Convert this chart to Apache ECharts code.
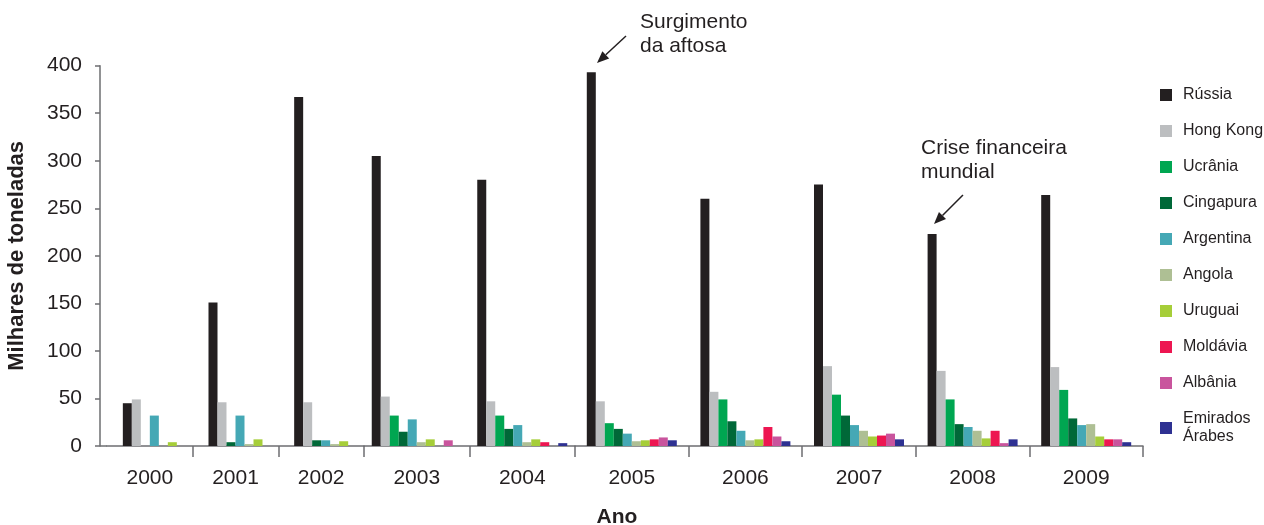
<!DOCTYPE html>
<html><head><meta charset="utf-8">
<script src="https://cdn.jsdelivr.net/npm/echarts@6/dist/echarts.min.js"></script>
<style>html,body{margin:0;padding:0;background:#fff}#c{width:1264px;height:525px}</style>
</head><body><div id="c"></div>
<script>
const years = ['2000','2001','2002','2003','2004','2005','2006','2007','2008','2009'];
const countries = ['Rússia','Hong Kong','Ucrânia','Cingapura','Argentina','Angola','Uruguai','Moldávia','Albânia','Emirados Árabes'];
const russia    = [45, 151, 367, 305, 280, 393, 260, 275, 223, 264];
const hongKong  = [49, 46, 46, 52, 47, 47, 57, 84, 79, 83];
const ucrania   = [null, null, null, 32, 32, 24, 49, 54, 49, 59];
const cingapura = [null, 4, 6, 15, 18, 18, 26, 32, 23, 29];
const argentina = [32, 32, 6, 28, 22, 13, 16, 22, 20, 22];
const angola    = [null, 2, 2, 4, 4, 5, 6, 16, 16, 23];
const uruguai   = [4, 7, 5, 7, 7, 6, 7, 10, 8, 10];
const moldavia  = [null, null, null, null, 4, 7, 20, 11, 16, 7];
const albania   = [null, null, null, 6, null, 9, 10, 13, 3, 7];
const emirados  = [null, null, null, null, 3, 6, 5, 7, 7, 4];
const yTicks = [0, 50, 100, 150, 200, 250, 300, 350, 400];
const colors = ['#231f20','#bcbec0','#00a651','#006838','#45a8b5','#aebf94','#a6ce39','#ed1651','#c9549d','#2e3192'];
const allValues = [russia, hongKong, ucrania, cingapura, argentina, angola, uruguai, moldavia, albania, emirados];
const legendLabels = {'Emirados Árabes': 'Emirados\nÁrabes'};

// layout: the original's year groups have uneven widths, so the x axis is split in panels
const panelYears = [3, 2, 5];
const panelEdges = [107, 364, 575, 1143];

const FONT = 'Liberation Sans, Arial, sans-serif';
const TXT = '#231f20';
const AX = '#6d6e71';

const chart = echarts.init(document.getElementById('c'), null, {renderer: 'canvas'});

const tickBase = {show: true, length: 11, lineStyle: {color: AX, width: 1.5}};
const grids = [], xAxes = [], yAxes = [], series = [];
let start = 0;
panelYears.forEach((n, p) => {
  const ys = years.slice(start, start + n);
  grids.push({left: panelEdges[p], top: 65.7, width: panelEdges[p + 1] - panelEdges[p], height: 380.3});
  xAxes.push({
    type: 'category', gridIndex: p, data: ys,
    axisLine: {show: true, lineStyle: {color: AX, width: 1.5}},
    axisTick: p === 0 ? Object.assign({}, tickBase, {interval: (idx) => idx !== 0}) : tickBase,
    axisLabel: {color: TXT, fontSize: 21, fontFamily: FONT, margin: 22},
    splitLine: {show: false}
  });
  const yBase = {type: 'value', gridIndex: p, min: yTicks[0], max: yTicks[yTicks.length - 1], interval: yTicks[1] - yTicks[0]};
  if (p === 0) {
    yAxes.push(Object.assign(yBase, {
      offset: 7,
      axisLine: {show: true, lineStyle: {color: AX, width: 1.5}},
      axisTick: {show: true, length: 5, lineStyle: {color: AX, width: 1.5}},
      axisLabel: {color: TXT, fontSize: 21, fontFamily: FONT, margin: 18},
      splitLine: {show: false},
      name: 'Milhares de toneladas', nameLocation: 'middle', nameGap: 72,
      nameTextStyle: {color: TXT, fontSize: 22, fontWeight: 'bold', fontFamily: FONT}
    }));
  } else {
    yAxes.push(Object.assign(yBase, {show: false}));
  }
  allValues.forEach((vals, i) => {
    const part = vals.slice(start, start + n);
    if (part.some(v => v != null)) {
      series.push({name: countries[i], type: 'bar', xAxisIndex: p, yAxisIndex: p,
        data: part, barWidth: 9, barGap: '0%', itemStyle: {color: colors[i]}, silent: true});
    }
  });
  start += n;
});

function arrow(x1, y1, x2, y2) {
  const dx = x2 - x1, dy = y2 - y1, L = Math.hypot(dx, dy);
  const ux = dx / L, uy = dy / L, hl = 12, hw = 5;
  const bx = x2 - ux * hl, by = y2 - uy * hl;
  return [
    {type: 'line', shape: {x1, y1, x2: bx, y2: by}, style: {stroke: TXT, lineWidth: 1.5}},
    {type: 'polygon', shape: {points: [[x2, y2], [bx - uy * hw, by + ux * hw], [bx + uy * hw, by - ux * hw]]}, style: {fill: TXT}}
  ];
}

chart.setOption({
  animation: false,
  backgroundColor: '#fff',
  color: colors,
  grid: grids,
  xAxis: xAxes,
  yAxis: yAxes,
  legend: {
    orient: 'vertical', left: 1155, top: 81,
    itemWidth: 12, itemHeight: 12, itemGap: 18,
    icon: 'rect',
    data: countries,
    formatter: n => legendLabels[n] || n,
    textStyle: {color: TXT, fontSize: 16, fontFamily: FONT, lineHeight: 18, padding: [0, 0, 0, 6]},
    selectedMode: false
  },
  series: series,
  graphic: [
    {type: 'line', shape: {x1: 100, y1: 446, x2: 107, y2: 446}, style: {stroke: AX, lineWidth: 1.5}},
    {type: 'text', x: 617, y: 507, style: {text: 'Ano', fill: TXT, font: 'bold 21px ' + FONT, textAlign: 'center'}},
    {type: 'text', x: 640, y: 10, style: {text: 'Surgimento\nda aftosa', fill: TXT, font: '21px ' + FONT, lineHeight: 24}},
    {type: 'text', x: 921, y: 136, style: {text: 'Crise financeira\nmundial', fill: TXT, font: '21px ' + FONT, lineHeight: 24}},
    ...arrow(626, 36, 597, 63),
    ...arrow(963, 195, 934, 224)
  ]
});
</script>
</body></html>
